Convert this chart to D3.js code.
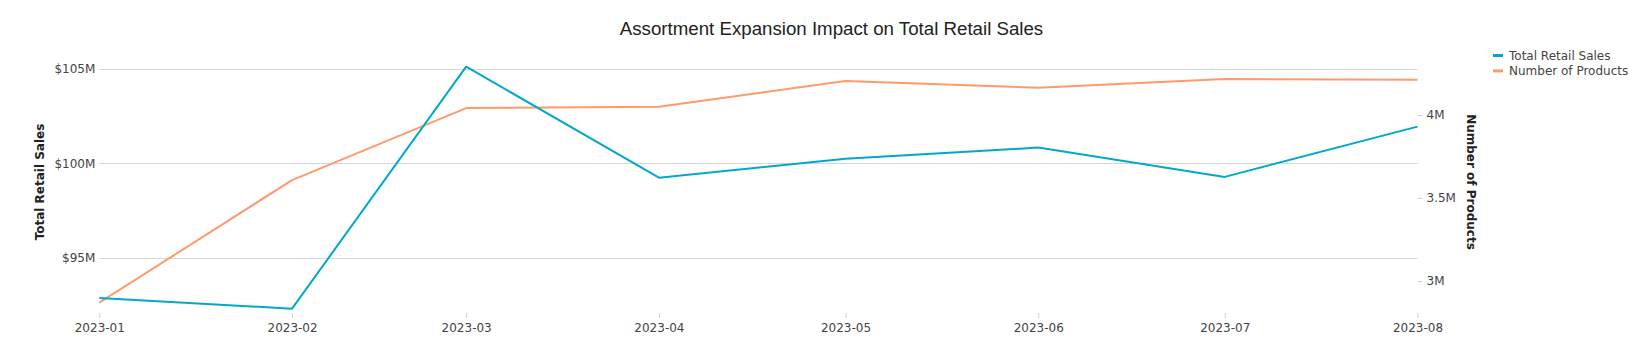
<!DOCTYPE html>
<html><head><meta charset="utf-8">
<script src="https://cdn.jsdelivr.net/npm/d3@7"></script>
<style>body{margin:0;background:#fff} svg{display:block}</style>
</head><body><svg id="c" width="1641" height="359"></svg>
<script>
// ---- data ----
const months = ["2023-01","2023-02","2023-03","2023-04","2023-05","2023-06","2023-07","2023-08"];
const totalRetailSales = [92.87, 92.31, 105.11, 99.24, 100.24, 100.83, 99.28, 101.94]; // $M
const numberOfProducts = [2.869, 3.608, 4.042, 4.050, 4.205, 4.164, 4.217, 4.213];   // M
const leftTicks = [95, 100, 105];
const leftTickLabels = ["$95M", "$100M", "$105M"];
const rightTicks = [3, 3.5, 4];
const rightTickLabels = ["3M", "3.5M", "4M"];
const seriesNames = ["Total Retail Sales", "Number of Products"];
const seriesColors = ["#00a9cc", "#ff9a6c"];

// ---- layout ----
const W = 1641, H = 359;
const plot = {left: 99.3, right: 1417.5, top: 51, bottom: 313};
const FONT = "'DejaVu Sans', Verdana, sans-serif";
const svg = d3.select("#c");
const parse = d3.utcParse("%Y-%m");
const dates = months.map(parse);

const x = d3.scaleUtc().domain(d3.extent(dates)).range([plot.left, plot.right]);
const yL = d3.scaleLinear().domain([92.08, 105.94]).range([plot.bottom, plot.top]);
const yR = d3.scaleLinear().domain([2.807, 4.386]).range([plot.bottom, plot.top]);

// gridlines (left axis)
svg.append("g").selectAll("line").data(leftTicks).join("line")
  .attr("x1", plot.left).attr("x2", plot.right)
  .attr("y1", d => Math.round(yL(d)) + 0.5).attr("y2", d => Math.round(yL(d)) + 0.5)
  .attr("stroke", "#d6d6d6").attr("stroke-width", 1);

// x axis
const gx = svg.append("g").attr("transform", `translate(0,${plot.bottom})`)
  .call(d3.axisBottom(x).tickValues(dates).tickFormat(d3.utcFormat("%Y-%m")).tickSize(5).tickPadding(5));
gx.select(".domain").remove();
gx.selectAll(".tick line").attr("stroke", "#cfcfcf");
gx.selectAll(".tick text").attr("fill", "#444").style("font", `12px ${FONT}`);

// left axis
const gl = svg.append("g").attr("transform", `translate(${plot.left},0)`)
  .call(d3.axisLeft(yL).tickValues(leftTicks).tickFormat((d, i) => leftTickLabels[i]).tickSize(0).tickPadding(4));
gl.select(".domain").remove();
gl.selectAll(".tick text").attr("fill", "#444").style("font", `12px ${FONT}`);

// right axis
const gr = svg.append("g").attr("transform", `translate(${plot.right},0)`)
  .call(d3.axisRight(yR).tickValues(rightTicks).tickFormat((d, i) => rightTickLabels[i]).tickSize(5).tickPadding(4));
gr.select(".domain").remove();
gr.selectAll(".tick line").attr("stroke", "#cfcfcf");
gr.selectAll(".tick text").attr("fill", "#444").style("font", `12px ${FONT}`);

// lines
const lineL = d3.line().x((d, i) => x(dates[i])).y(d => yL(d));
const lineR = d3.line().x((d, i) => x(dates[i])).y(d => yR(d));
svg.append("path").datum(numberOfProducts).attr("d", lineR)
  .attr("fill", "none").attr("stroke", seriesColors[1]).attr("stroke-width", 2).attr("stroke-linejoin", "round");
svg.append("path").datum(totalRetailSales).attr("d", lineL)
  .attr("fill", "none").attr("stroke", seriesColors[0]).attr("stroke-width", 2).attr("stroke-linejoin", "round");

// axis titles
svg.append("text").attr("transform", `translate(39.7,${(plot.top + plot.bottom) / 2}) rotate(-90)`)
  .attr("text-anchor", "middle").attr("dominant-baseline", "central")
  .attr("fill", "#222").style("font", `bold 12px ${FONT}`).text("Total Retail Sales");
svg.append("text").attr("transform", `translate(1471,${(plot.top + plot.bottom) / 2}) rotate(90)`)
  .attr("text-anchor", "middle").attr("dominant-baseline", "central")
  .attr("fill", "#222").style("font", `bold 12px ${FONT}`).text("Number of Products");

// title
svg.append("text").attr("x", 831.5).attr("y", 35).attr("text-anchor", "middle")
  .attr("fill", "#222").style("font", "18.7px 'Liberation Sans', Arial, sans-serif")
  .text("Assortment Expansion Impact on Total Retail Sales");

// legend
const lg = svg.append("g").attr("transform", "translate(1493,55.5)");
const items = lg.selectAll("g").data(seriesNames).join("g").attr("transform", (d, i) => `translate(0,${i * 15.4})`);
items.append("line").attr("x1", 0).attr("x2", 10).attr("y1", 0).attr("y2", 0)
  .attr("stroke", (d, i) => seriesColors[i]).attr("stroke-width", 3);
items.append("text").attr("x", 16).attr("y", 0).attr("dominant-baseline", "central")
  .attr("fill", "#444").style("font", `12px ${FONT}`).text(d => d);
</script></body></html>
